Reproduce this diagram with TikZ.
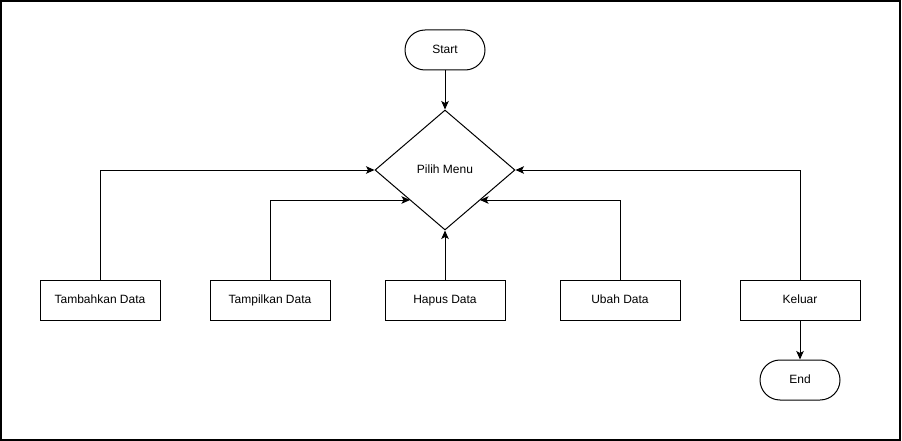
\documentclass[tikz,border=0pt]{standalone}
\usepackage{fontspec}
\setmainfont{Liberation Sans}
\usetikzlibrary{shapes.geometric,arrows.meta}
\begin{document}
\begin{tikzpicture}[x=1pt,y=-1pt,
  every node/.style={font=\fontsize{12}{14}\selectfont, inner sep=0pt, line width=1pt, text height=9pt, text depth=2.5pt},
  procbox/.style={draw, minimum width=120pt, minimum height=40pt},
  termbox/.style={draw, rounded corners=20pt, minimum width=80pt, minimum height=40pt},
  decbox/.style={draw, diamond, minimum width=140pt, minimum height=120pt},
  conn/.style={line width=1pt, -{Stealth[length=8.5pt,width=7.5pt,inset=2pt]}}]
\useasboundingbox (0,0) rectangle (902,441);
\draw[line width=1.3pt] (1,1) rectangle (900,440);
\node[termbox] (start) at (445,50) {Start};
\node[decbox] (menu) at (445,170) {Pilih Menu};
\coordinate (mll) at (410,200);
\coordinate (mrr) at (480,200);
\node[procbox] (tambah) at (100,300) {Tambahkan Data};
\node[procbox] (tampil) at (270,300) {Tampilkan Data};
\node[procbox] (hapus) at (445,300) {Hapus Data};
\node[procbox] (ubah) at (620,300) {Ubah Data};
\node[procbox] (keluar) at (800,300) {Keluar};
\node[termbox] (end) at (800,380) {End};
\draw[conn] (start) -- (menu.north);
\draw[conn] (tambah.north) |- (menu.west);
\draw[conn] (tampil.north) |- (mll);
\draw[conn] (hapus.north) -- (menu.south);
\draw[conn] (ubah.north) |- (mrr);
\draw[conn] (keluar.north) |- (menu.east);
\draw[conn] (keluar) -- (end);
\end{tikzpicture}
\end{document}
